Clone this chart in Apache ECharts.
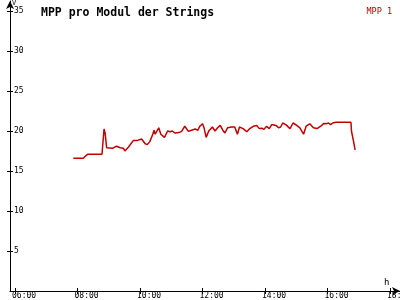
<!DOCTYPE html>
<html><head><meta charset="utf-8">
<script src="https://cdn.jsdelivr.net/npm/echarts@6/dist/echarts.min.js"></script>
<style>html,body{margin:0;padding:0;background:#fff}#c{width:400px;height:300px}</style>
</head><body><div id="c"></div>
<script>
const times = ["07:52","08:11","08:16","08:20","08:47","08:51","08:53","08:56","09:08","09:15","09:22","09:28","09:31","09:38","09:47","09:54","09:57","10:03","10:10","10:14","10:19","10:24","10:27","10:29","10:36","10:40","10:47","10:53","10:58","11:02","11:07","11:15","11:20","11:26","11:33","11:39","11:46","11:51","11:55","12:00","12:03","12:07","12:12","12:19","12:24","12:29","12:34","12:39","12:43","12:48","12:56","13:02","13:07","13:11","13:18","13:25","13:31","13:38","13:44","13:49","13:54","13:58","14:03","14:08","14:13","14:21","14:26","14:30","14:34","14:40","14:48","14:54","15:01","15:07","15:14","15:19","15:26","15:33","15:40","15:47","15:53","15:57","16:02","16:06","16:10","16:16","16:45","16:46","16:50","16:53"];
const mpp1 = [16.6,16.6,16.9,17.1,17.1,20.25,19.75,17.9,17.85,18.1,17.9,17.85,17.5,18.0,18.8,18.8,18.7,19.0,18.4,18.3,18.7,19.5,20.1,19.6,20.4,19.6,19.2,20.0,19.9,20.0,19.75,19.8,19.95,20.6,19.95,20.1,20.25,20.1,20.6,20.9,20.4,19.2,20.0,20.5,20.0,20.4,20.7,20.1,19.75,20.4,20.5,20.5,19.6,20.5,20.3,19.9,20.3,20.6,20.7,20.3,20.35,20.2,20.6,20.3,20.8,20.7,20.4,20.5,21.0,20.8,20.3,21.0,20.7,20.4,19.6,20.6,20.9,20.4,20.3,20.6,20.95,20.9,21.0,20.8,21.0,21.1,21.1,20.0,18.7,17.65];
const xTickHours = [6,8,10,12,14,16,18];
const yTickValues = [5,10,15,20,25,30,35];
const seriesName = "MPP 1";
const titleText = "MPP pro Modul der Strings";

function toH(t){const p=t.split(':');return +p[0]+(+p[1])/60;}
const data = times.map((t,i)=>[toH(t), mpp1[i]]);
const F = "DejaVu Sans Mono";
const chart = echarts.init(document.getElementById('c'), null, {renderer:'canvas'});
chart.setOption({
  animation:false,
  backgroundColor:'#fff',
  title:{text:titleText,left:36,top:2,textStyle:{fontFamily:F,fontSize:11.5,fontWeight:'bold',color:'#000'}},
  legend:{data:[seriesName],right:3,top:0,icon:'none',itemWidth:0,itemGap:0,textStyle:{fontFamily:F,fontSize:8.5,color:'#c00000'}},
  grid:{left:10,right:0,top:1,bottom:9,containLabel:false,outerBoundsMode:'none'},
  xAxis:[{type:'value',min:5.84,max:18.32,
    axisLine:{show:true,lineStyle:{color:'#000',width:1},symbol:['none','arrow'],symbolSize:[6,8]},
    axisTick:{show:true,inside:false,length:3,lineStyle:{color:'#000'},customValues:xTickHours},
    axisLabel:{show:true,customValues:xTickHours,fontFamily:F,fontSize:8,color:'#000',margin:1,align:'left',padding:[0,0,0,-3],
      formatter:v=>String(Math.round(v)).padStart(2,'0')+':00'},
    splitLine:{show:false}},
   {type:'value',min:5.84,max:18.32,position:'bottom',axisLine:{show:false},
    axisTick:{show:true,inside:true,length:3,lineStyle:{color:'#000'},customValues:xTickHours},
    axisLabel:{show:false},splitLine:{show:false}}],
  yAxis:[{type:'value',min:0,max:36.25,
    axisLine:{show:true,lineStyle:{color:'#000',width:1},symbol:['none','arrow'],symbolSize:[6,8]},
    axisTick:{show:true,inside:true,length:3,lineStyle:{color:'#000'},customValues:yTickValues},
    axisLabel:{show:true,inside:true,customValues:yTickValues,fontFamily:F,fontSize:8,color:'#000',margin:4},
    splitLine:{show:false}},
   {type:'value',min:0,max:36.25,position:'left',axisLine:{show:false},
    axisTick:{show:true,inside:false,length:3,lineStyle:{color:'#000'},customValues:yTickValues},
    axisLabel:{show:false},splitLine:{show:false}}],
  graphic:[
    {type:'text',left:12,top:0,style:{text:'V',font:'7px "DejaVu Sans Mono"',fill:'#000'}},
    {type:'text',left:384,top:278,style:{text:'h',font:'9px "DejaVu Sans Mono"',fill:'#000'}}
  ],
  series:[{name:seriesName,type:'line',data:data,showSymbol:false,symbol:'none',
    lineStyle:{color:'#c00000',width:1.5},itemStyle:{color:'#c00000'}}]
});
</script></body></html>
